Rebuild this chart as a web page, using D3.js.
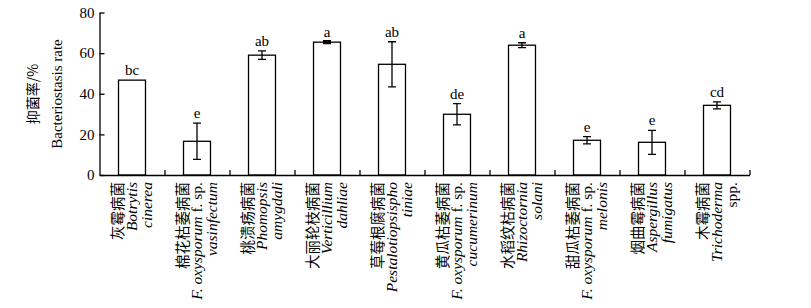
<!DOCTYPE html>
<html lang="zh">
<head>
  <meta charset="UTF-8">
  <title>抑菌率</title>
  <script src="https://d3js.org/d3.v7.min.js"></script>
  <style>
    body { margin: 0; background: #fff; }
    svg { display: block; }
    text { font-family: "Liberation Serif", "Noto Sans CJK SC", serif; fill: #000; }
    .cn { font-family: "Noto Sans CJK SC", sans-serif; }
    .axis path, .axis line { stroke: #000; stroke-width: 1.3; }
    .bar { fill: #fff; stroke: #000; stroke-width: 1.3; }
    .err { stroke: #000; stroke-width: 1.3; fill: none; }
  </style>
</head>
<body>
  <script>
    // pathogens (Chinese name + latin name lines)
    const cnNames = ["灰霉病菌", "棉花枯萎病菌", "桃溃疡病菌", "大丽轮枝病菌", "草莓根腐病菌",
                     "黄瓜枯萎病菌", "水稻纹枯病菌", "甜瓜枯萎病菌", "烟曲霉病菌", "木霉病菌"];
    const latinNames = [
      ["Botrytis", "cinerea"],
      ["F. oxysporum f. sp.", "vasinfectum"],
      ["Phomopsis", "amygdali"],
      ["Verticillium", "dahliae"],
      ["Pestalotiopsispho", "tiniae"],
      ["F. oxysporum f. sp.", "cucumerinum"],
      ["Rhizoctornia", "solani"],
      ["F. oxysporum f. sp.", "melonis"],
      ["Aspergillus", "fumigatus"],
      ["Trichoderma", "spp."]
    ];
    const rates = [46.7, 16.6, 59.0, 65.4, 54.5, 29.9, 63.9, 17.1, 16.1, 34.3];
    const errors = [0, 8.9, 2.1, 0.3, 11.1, 5.2, 1.2, 1.8, 5.9, 1.7];
    const letters = ["bc", "e", "ab", "a", "ab", "de", "a", "e", "e", "cd"];
    const yTicks = [0, 20, 40, 60, 80];

    const W = 811, H = 308;
    const svg = d3.select("body").append("svg").attr("width", W).attr("height", H);

    const x = d3.scaleBand().domain(d3.range(cnNames.length)).range([99.5, 749.5]).paddingInner(0.585).paddingOuter(0.2925);
    const xEdge = d3.scaleLinear().domain([0, cnNames.length]).range([99.5, 749.5]);
    const y = d3.scaleLinear().domain([0, 80]).range([175, 12.5]);

    // bars
    svg.selectAll(".bar")
      .data(rates)
      .enter().append("rect")
        .attr("class", "bar")
        .attr("x", (d, i) => x(i))
        .attr("y", d => y(d))
        .attr("width", x.bandwidth())
        .attr("height", d => y(0) - y(d));

    // error bars
    const cap = 4;
    const eb = svg.selectAll(".errg")
      .data(rates.map((d, i) => ({ v: d, e: errors[i], i: i })).filter(d => d.e > 0))
      .enter().append("g").attr("class", "err");
    eb.append("path")
      .attr("d", d => {
        const cx = x(d.i) + x.bandwidth() / 2;
        const t = y(d.v + d.e), b = y(d.v - d.e);
        return "M" + cx + "," + t + "V" + b +
          "M" + (cx - cap) + "," + t + "H" + (cx + cap) +
          "M" + (cx - cap) + "," + b + "H" + (cx + cap);
      })
      .style("stroke-width", d => (y(d.v - d.e) - y(d.v + d.e)) < 2 ? 3 : 1.3);

    // significance letters
    svg.selectAll(".lt")
      .data(letters)
      .enter().append("text")
        .attr("x", (d, i) => x(i) + x.bandwidth() / 2)
        .attr("y", (d, i) => y(rates[i] + errors[i]) - 5)
        .attr("text-anchor", "middle")
        .style("font-size", "15px")
        .text(d => d);

    // y axis
    svg.append("g")
      .attr("class", "axis")
      .attr("transform", "translate(99.5,0)")
      .call(d3.axisLeft(y).tickValues(yTicks).tickSize(-5).tickSizeOuter(0).tickPadding(5))
      .call(g => g.selectAll("text").style("font-size", "15px").style("font-family", "Liberation Serif"));

    // x axis (ticks at category boundaries, pointing up)
    svg.append("g")
      .attr("class", "axis")
      .attr("transform", "translate(0,175)")
      .call(d3.axisBottom(xEdge).tickValues(d3.range(1, cnNames.length + 1)).tickSize(-5).tickSizeOuter(0).tickFormat(""));

    // x category labels (rotated)
    const lineGap = 14.2;
    cnNames.forEach((name, i) => {
      const cx = x(i) + x.bandwidth() / 2;
      const g = svg.append("g").attr("transform", "translate(" + cx + ",182) rotate(-90)");
      const lines = [name].concat(latinNames[i]);
      lines.forEach((ln, j) => {
        const t = g.append("text")
          .attr("x", 0)
          .attr("y", (j - 1) * lineGap)
          .attr("dy", "0.35em")
          .attr("text-anchor", "end")
          .style("font-size", j === 0 ? "14.5px" : "15.5px");
        if (j === 0) {
          t.attr("class", "cn").text(ln);
        } else {
          ln.split(/(f\. sp\.|spp\.)/).filter(s => s.length).forEach(s => {
            t.append("tspan")
              .style("font-style", /^(f\. sp\.|spp\.)$/.test(s) ? "normal" : "italic")
              .text(s);
          });
        }
      });
    });

    // y axis title
    const yt = svg.append("g").attr("transform", "translate(45,94) rotate(-90)");
    yt.append("text").attr("class", "cn").attr("y", -12).attr("dy", "0.35em")
      .attr("text-anchor", "middle").style("font-size", "14px").text("抑菌率/%");
    yt.append("text").attr("y", 12).attr("dy", "0.35em")
      .attr("text-anchor", "middle").style("font-size", "15px").text("Bacteriostasis rate");
  </script>
</body>
</html>
